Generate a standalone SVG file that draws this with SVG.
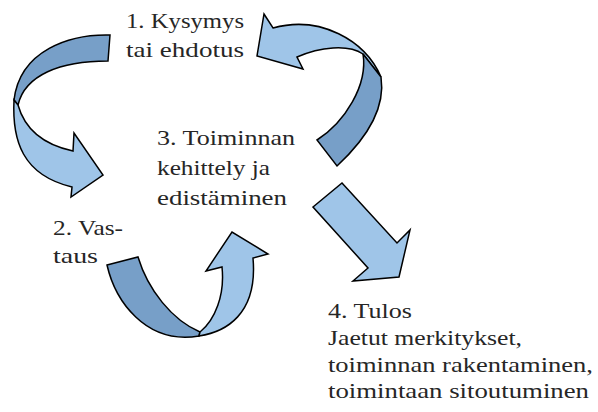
<svg xmlns="http://www.w3.org/2000/svg" width="598" height="412" viewBox="0 0 598 412">
<style>
.lt{fill:#9FC5E8;stroke:#000;stroke-width:1.5;stroke-linejoin:miter}
.dk{fill:#779FC8;stroke:#000;stroke-width:1.5;stroke-linejoin:miter}
text{font-family:"Liberation Serif","Times New Roman",serif;font-size:22px;fill:#262626}
</style>
<rect width="598" height="412" fill="#fff"/>
<g id="connectors">
  <g id="arrow-1-2">
    <path class="dk" d="M110,35 C70,34 20,50 14,100 L18,105 C25,75 60,61 108,61 Z"/>
    <path class="lt" d="M14,100 C12,140 22,175 72,187 L71,197 L103,175 L74,133 L73,151 C45,145 25,130 18,105 Z"/>
  </g>
  <g id="arrow-3-1">
    <path class="lt" d="M264,14 L273,28 C320,15 365,40 381,77 L363,54 C348,44 320,47 297,57 L303,69 L257,56 Z"/>
    <path class="dk" d="M363,54 C368,85 345,122 317,140 L337,166 C365,140 386,110 381,77 Z"/>
  </g>
  <g id="arrow-2-3">
    <path class="dk" d="M107,265 L138,257 C148,290 172,320 200,332 L199,336 C145,345 115,300 107,265 Z"/>
    <path class="lt" d="M199,336 C225,332 258,315 253,258 L268,254 L232,232 L206,271 L222,267 C225,295 215,320 200,332 Z"/>
  </g>
  <g id="arrow-3-4">
    <path class="lt" d="M342,183 L397,243 L410,230 L399,277 L353,281 L368,268 L313,207 Z"/>
  </g>
</g>
<g id="node-1">
  <text x="126" y="28" textLength="118" lengthAdjust="spacingAndGlyphs">1. Kysymys</text>
  <text x="126" y="57" textLength="118" lengthAdjust="spacingAndGlyphs">tai ehdotus</text>
</g>
<g id="node-2">
  <text x="53" y="235" textLength="70" lengthAdjust="spacingAndGlyphs">2. Vas-</text>
  <text x="53" y="263" textLength="45" lengthAdjust="spacingAndGlyphs">taus</text>
</g>
<g id="node-3">
  <text x="157" y="145" textLength="138" lengthAdjust="spacingAndGlyphs">3. Toiminnan</text>
  <text x="157" y="175" textLength="113" lengthAdjust="spacingAndGlyphs">kehittely ja</text>
  <text x="157" y="205" textLength="130" lengthAdjust="spacingAndGlyphs">edistäminen</text>
</g>
<g id="node-4">
  <text x="328" y="318" textLength="84" lengthAdjust="spacingAndGlyphs">4. Tulos</text>
  <text x="328" y="345" textLength="194" lengthAdjust="spacingAndGlyphs">Jaetut merkitykset,</text>
  <text x="328" y="372" textLength="265" lengthAdjust="spacingAndGlyphs">toiminnan rakentaminen,</text>
  <text x="328" y="398" textLength="261" lengthAdjust="spacingAndGlyphs">toimintaan sitoutuminen</text>
</g>
</svg>
